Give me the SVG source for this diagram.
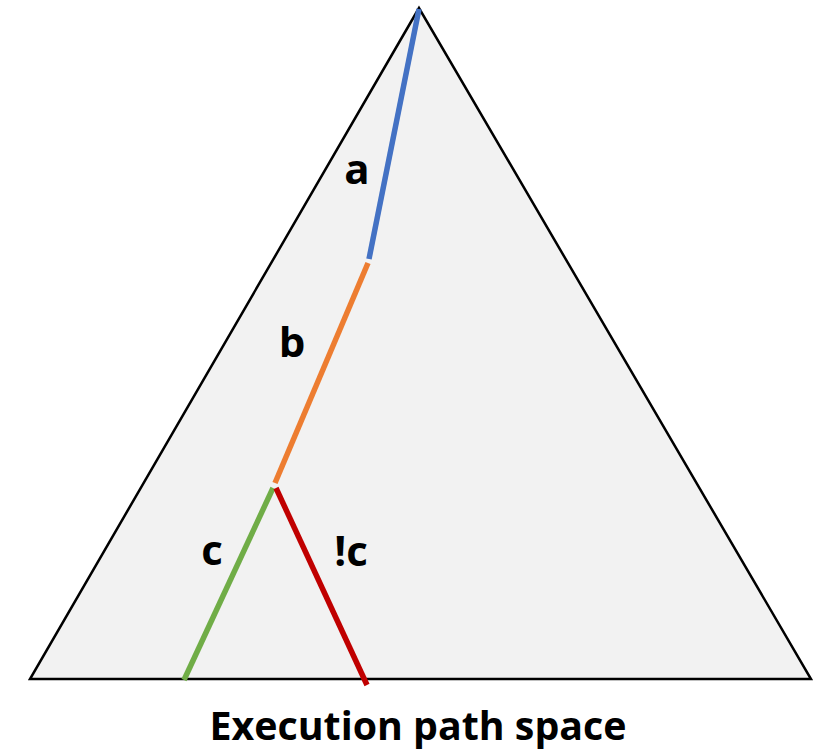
<svg xmlns="http://www.w3.org/2000/svg" width="813" height="752" viewBox="0 0 813 752">
<style>
.lbl{font-family:"Open Sans","Liberation Sans",sans-serif;font-weight:bold;font-size:42px;fill:#000;text-anchor:middle}
.seg{stroke-width:5.5;stroke-linecap:butt;fill:none}
</style>
<rect width="813" height="752" fill="#fff"/>
<g id="space">
<polygon points="419,8 30,679 811,679" fill="#f2f2f2" stroke="#000" stroke-width="2.5" stroke-linejoin="miter"/>
</g>
<g id="connectors">
<line class="seg" x1="419" y1="9" x2="369" y2="259" stroke="#4472c4"/>
<line class="seg" x1="368" y1="263" x2="275" y2="483" stroke="#ed7d31"/>
<line class="seg" x1="273" y1="488" x2="184" y2="680" stroke="#70ad47"/>
<line class="seg" x1="276" y1="488" x2="367" y2="685" stroke="#c00000"/>
</g>
<g id="label-a"><text class="lbl" x="357" y="184">a</text></g>
<g id="label-b"><text class="lbl" x="292" y="357">b</text></g>
<g id="label-c"><text class="lbl" x="212" y="565">c</text></g>
<g id="label-notc"><text class="lbl" x="351" y="566">!c</text></g>
<g id="caption"><text class="lbl" x="418" y="740" textLength="417" lengthAdjust="spacingAndGlyphs" style="font-size:40px">Execution path space</text></g>
</svg>
